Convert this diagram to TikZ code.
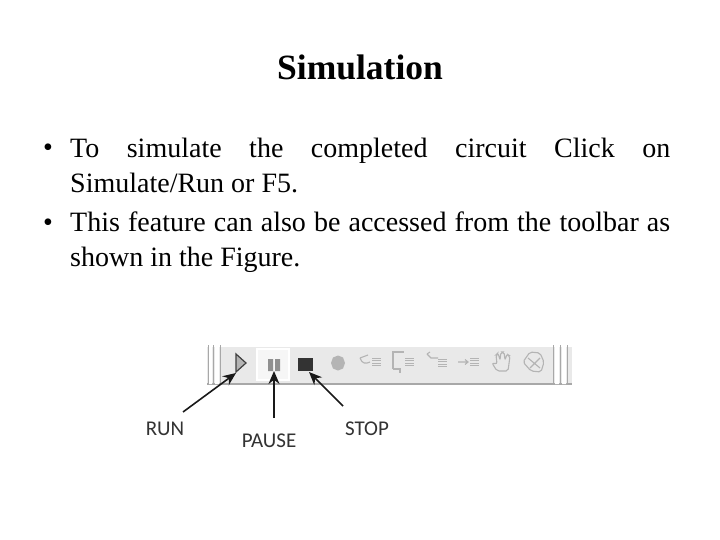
\documentclass[tikz,border=0pt]{standalone}
\usepackage{fontspec}
\setmainfont{Liberation Serif}
\newfontfamily\lblfont{Carlito}
\usetikzlibrary{arrows.meta}
\definecolor{barbg}{HTML}{E9E9E9}
\definecolor{barline}{HTML}{A8A8A8}
\definecolor{icongray}{HTML}{B4B4B4}
\definecolor{lbl}{HTML}{333333}
\tikzset{
  bodytext/.style={anchor=north west,inner sep=0pt,text width=600pt,align=justify,
    font=\fontsize{28}{35}\selectfont},
  bullettext/.style={anchor=base,inner sep=0pt,font=\fontsize{28}{34}\selectfont},
  titletext/.style={anchor=base,inner sep=0pt,font=\fontsize{35.5}{40}\selectfont\bfseries},
  lbltext/.style={anchor=base,inner sep=0pt,text=lbl,font=\fontsize{21}{24}\selectfont\lblfont},
  grip/.style={draw=barline,line width=1pt},
  callout/.style={draw=black!90,line width=1.6pt,-{Stealth[length=13pt,width=11pt]}},
  ticon/.style={draw=icongray,line width=1.1pt},
  ticonfine/.style={draw=icongray,line width=0.8pt}
}
\newcommand{\rowlines}[2]{%
  \foreach \k in {0,1,2,3}{\draw[ticonfine] (#1,#2+\k*2.6) -- ++(9,0);}}
\begin{document}
\begin{tikzpicture}[x=1pt,y=-1pt]
\useasboundingbox[fill=white] (0,0) rectangle (720,540);
\node[titletext] (title) at (360,80) {Simulation};
\node[bullettext] (b1) at (48,157) {•};
\node[bodytext] (p1) at (70,137.5) {To simulate the completed circuit Click on\linebreak Simulate/Run or F5.};
\node[bullettext] (b2) at (48,231) {•};
\node[bodytext] (p2) at (70,212) {This feature can also be accessed from the toolbar as\linebreak shown in the Figure.};
% toolbar
\fill[barbg] (207,347) rectangle (572,383);
\draw[barline,line width=1.6pt] (207,384) -- (572,384);
\fill[white] (209,345) rectangle (212,384) (215,345) rectangle (219,384) (555,345) rectangle (559,384) (562,345) rectangle (566,384);
\foreach \gx in {208,213.5,220,553,560,567}{\draw[grip] (\gx,345) -- (\gx,384);}
% run icon
\path[fill=icongray,draw=black!75,line width=1.2pt] (236,354) -- (246,363) -- (236,372) -- cycle;
% pause button
\path[fill=white!60!barbg,draw=white,line width=1.2pt] (257,349) rectangle (289,380);
\fill[icongray!80!black] (268,359) rectangle (273,371) (275,359) rectangle (280,371);
% stop
\path[fill=black!80] (298,358) rectangle (313,371);
% record
\fill[icongray] (338,355.5) -- ++(5,2) -- ++(2,5.5) -- ++(-2,5.5) -- ++(-5,2) -- ++(-5,-2) -- ++(-2,-5.5) -- ++(2,-5.5) -- cycle;
% step icons
\draw[ticon] (360,358) -- (368,355) (360,358) .. controls (362,364) and (366,364) .. (370,362);
\rowlines{372}{358}
\draw[ticon] (393,369) -- (393,352) -- (404,352) (393,369) -- (400,369) -- (400,373);
\rowlines{405}{358}
\draw[ticon] (427,354) -- (431,358) -- (438,358) (427,354) -- (430,352);
\rowlines{438}{359}
\draw[ticon] (458,362) -- (468,362) (465,359.5) -- (468,362) -- (465,364.5);
\rowlines{470}{358}
% hand
\draw[ticon,rounded corners=2pt] (492,363) -- (497,371) -- (508,371) -- (510,356) -- (507,354) -- (505,360) -- (504,352) -- (501,352) -- (500,360) -- (498,353) -- (496,355) -- (497,364) -- cycle;
% last icon
\draw[ticon,rounded corners=2pt] (523,362) -- (530,352) -- (540,353) -- (544,362) -- (541,372) -- (531,371) -- cycle;
\draw[ticon] (528,358) -- (540,368) (540,358) -- (530,368);
% labels and callouts
\node[lbltext] (run) at (165,435) {RUN};
\node[lbltext] (pause) at (269,447) {PAUSE};
\node[lbltext] (stop) at (367,435) {STOP};
\coordinate (runtail) at (183,412);
\coordinate (runtip) at (236,373);
\coordinate (pausetail) at (274,418);
\coordinate (pausetip) at (274,371);
\coordinate (stoptail) at (343,406);
\coordinate (stoptip) at (309,372);
\draw[callout] (runtail) -- (runtip);
\draw[callout] (pausetail) -- (pausetip);
\draw[callout] (stoptail) -- (stoptip);
\end{tikzpicture}
\end{document}
